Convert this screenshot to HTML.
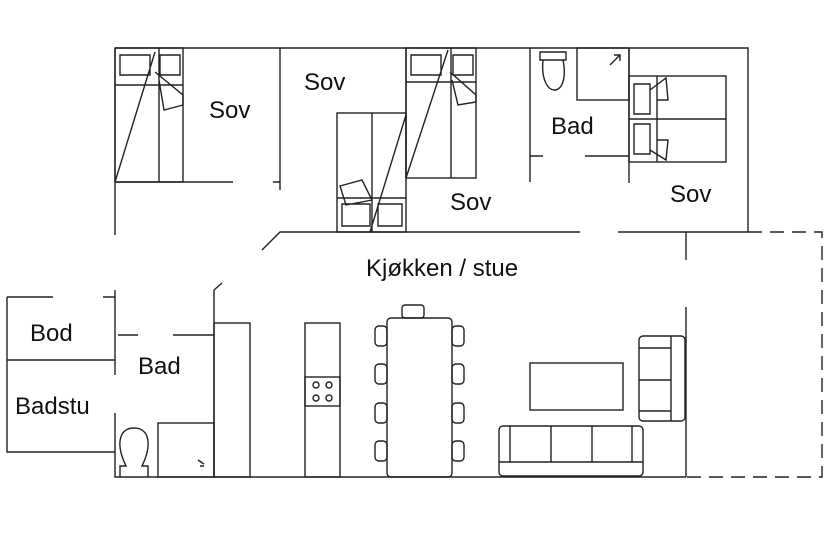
<!DOCTYPE html>
<html><head><style>body{margin:0;background:#fff}svg{display:block}text{font-family:"Liberation Sans",sans-serif;font-size:24px;fill:#111}</style></head><body>
<svg width="830" height="555" viewBox="0 0 830 555" fill="none" stroke="#222" stroke-width="1.4">
<!-- outer walls -->
<path d="M115 48H748V232 M115 48V235 M115 290V375 M115 413V477H686 M686 232V260 M686 307V477"/>
<path d="M748 232H822V477H686" stroke-dasharray="14 8"/>
<!-- top rooms -->
<path d="M115 182H233 M273 182H280 M280 48V190 M262 250L280 232H580 M618 232H748 M530 48V182 M629 48V183 M530 156H543 M585 156H629 M406 48V178"/>
<!-- beds -->
<rect x="115" y="48" width="68" height="134"/><path d="M159 48V182 M115 85H183 M115 182L155 52 M120 55h30v20h-30z M160 55h20v20h-20z M155 72L183 95L183 105L164 110L159 80"/>
<rect x="337" y="113" width="69" height="119"/><path d="M372 113V232 M337 198H406 M370 232L406 115 M342 204h28v22h-28z M378 204h24v22h-24z M340 186L362 180L372 200L346 205z"/>
<rect x="406" y="48" width="70" height="130"/><path d="M451 48V178 M406 82H476 M406 178L448 50 M411 55h30v20h-30z M453 55h20v20h-20z M450 72L476 95L476 102L458 105L452 80"/>
<rect x="629" y="76" width="97" height="86"/><path d="M629 119H726 M657 76V162 M634 84h16v30h-16z M634 124h16v30h-16z M650 90L666 78L668 100L657 100 M650 150L666 160L668 140L657 140"/>
<!-- bath top -->
<rect x="577" y="48" width="52" height="52"/><path d="M540 52h26v8h-26z M543 60c-4 40 28 40 20 0" /><path d="M610 65L620 55 M614 55h6v6"/>
<!-- lower left -->
<path d="M7 297H53 M103 297H115 M7 297V452H115 M7 360H115 M118 335H138 M173 335H214 M214 290V477 M214 290L222 283"/>
<rect x="158" y="423" width="56" height="54"/>
<path d="M120 477V466h6c-10-20-8-38 8-38s18 18 8 38h6v11"/>
<path d="M198 460l6 4 M200 466h4"/>
<!-- kitchen -->
<rect x="214" y="323" width="36" height="154"/>
<rect x="305" y="323" width="35" height="154"/>
<rect x="305" y="377" width="35" height="29"/>
<circle cx="316" cy="385" r="3"/><circle cx="329" cy="385" r="3"/><circle cx="316" cy="398" r="3"/><circle cx="329" cy="398" r="3"/>
<!-- table -->
<rect x="387" y="318" width="65" height="159" rx="4"/>
<rect x="402" y="305" width="22" height="13" rx="3"/>
<g id="c"><rect x="375" y="326" width="12" height="20" rx="4"/><rect x="452" y="326" width="12" height="20" rx="4"/></g>
<use href="#c" y="38"/><use href="#c" y="77"/><use href="#c" y="115"/>
<!-- living -->
<rect x="530" y="363" width="93" height="47"/>
<rect x="499" y="426" width="144" height="50" rx="4"/><path d="M499 462H643 M510 426V462 M551 426V462 M592 426V462 M632 426V462"/>
<rect x="639" y="336" width="46" height="85" rx="4"/><path d="M671 336V421 M639 348H671 M639 380H671 M639 411H671"/>
<!-- labels -->
<g stroke="none"><text x="209" y="118">Sov</text><text x="304" y="90">Sov</text><text x="450" y="210">Sov</text><text x="551" y="134">Bad</text><text x="670" y="202">Sov</text><text x="366" y="276">Kjøkken / stue</text><text x="30" y="341">Bod</text><text x="138" y="374">Bad</text><text x="15" y="414">Badstu</text></g>
</svg></body></html>
